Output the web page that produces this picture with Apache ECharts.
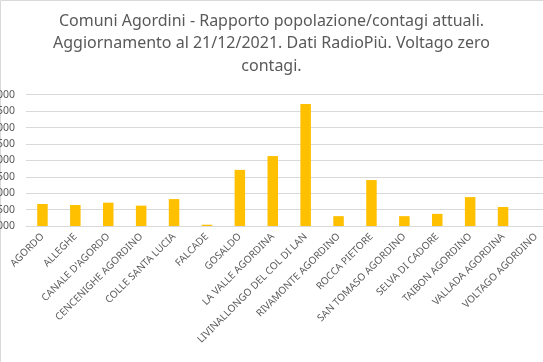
<!DOCTYPE html>
<html><head><meta charset="utf-8">
<script src="https://cdn.jsdelivr.net/npm/echarts@6/dist/echarts.min.js"></script>
<style>html,body{margin:0;padding:0;background:#fff}#c{width:543px;height:362px}</style>
</head><body><div id="c"></div>
<script>
const titleText = "Comuni Agordini - Rapporto popolazione/contagi attuali.\nAggiornamento al 21/12/2021. Dati RadioPiù. Voltago zero\ncontagi.";
const categories = ["AGORDO","ALLEGHE","CANALE D'AGORDO","CENCENIGHE AGORDINO","COLLE SANTA LUCIA","FALCADE","GOSALDO","LA VALLE AGORDINA","LIVINALLONGO DEL COL DI LAN","RIVAMONTE AGORDINO","ROCCA PIETORE","SAN TOMASO AGORDINO","SELVA DI CADORE","TAIBON AGORDINO","VALLADA AGORDINA","VOLTAGO AGORDINO"];
const values = [0.67,0.64,0.71,0.62,0.82,0.04,1.71,2.13,3.72,0.30,1.40,0.30,0.37,0.88,0.58,0];
const yTicks = [0,0.5,1,1.5,2,2.5,3,3.5,4];

const chart = echarts.init(document.getElementById('c'));
const font = "Noto Sans";
chart.setOption({
  animation:false,
  backgroundColor:'#fff',
  title:{text:titleText,left:'center',top:5,textStyle:{fontFamily:font,fontSize:16,fontWeight:'normal',color:'#595959',lineHeight:22.5}},
  grid:{left:26,top:94.7,width:526.4,height:131.3,containLabel:false,outerBoundsMode:'none'},
  xAxis:{type:'category',data:categories,
    axisLine:{lineStyle:{color:'#d9d9d9'}},axisTick:{show:false},
    axisLabel:{interval:0,rotate:45,fontFamily:font,fontSize:10,color:'#595959',margin:9}},
  yAxis:{type:'value',min:yTicks[0],max:yTicks[yTicks.length-1],interval:0.5,
    axisLine:{show:false},axisTick:{show:false},
    splitLine:{lineStyle:{color:'#d9d9d9'}},
    axisLabel:{fontFamily:font,fontSize:10.5,color:'#595959',margin:11,
      formatter:v=>v.toFixed(3).replace('.',',')}},
  series:[{type:'bar',data:values,barWidth:10.5,itemStyle:{color:'#FFC000'}}],
  graphic:[{type:'rect',shape:{x:0.5,y:0.5,width:560,height:400},style:{fill:'none',stroke:'#d9d9d9',lineWidth:1},silent:true}]
});
</script></body></html>
